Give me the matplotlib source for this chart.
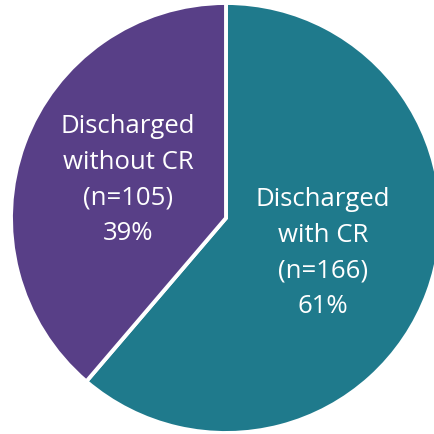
import matplotlib
matplotlib.use("Agg")
import matplotlib.pyplot as plt

categories = ["Discharged\nwith CR", "Discharged\nwithout CR"]
counts = [166, 105]
colors = ["#1F7A8C", "#583F87"]

W = H = 435
fig = plt.figure(figsize=(W / 100, H / 100), dpi=100)
ax = fig.add_axes([0, 0, 1, 1])
cx, cy, r = 226, H - 219, 215
ax.pie(counts, colors=colors, startangle=90, counterclock=False,
       center=(cx, cy), radius=r,
       wedgeprops=dict(edgecolor="white", linewidth=2.8))
ax.set_xlim(0, W)
ax.set_ylim(0, H)
ax.set_aspect("equal")
ax.axis("off")

total = sum(counts)
label_pos = [(323, H - 253), (128, H - 180)]
for cat, n, (x, y) in zip(categories, counts, label_pos):
    pct = round(100 * n / total)
    ax.text(x, y, f"{cat}\n(n={n})\n{pct}%", ha="center", va="center",
            color="white", fontsize=18.5, family="Open Sans", linespacing=1.55)

fig.savefig("out.png", dpi=100, facecolor="white")
